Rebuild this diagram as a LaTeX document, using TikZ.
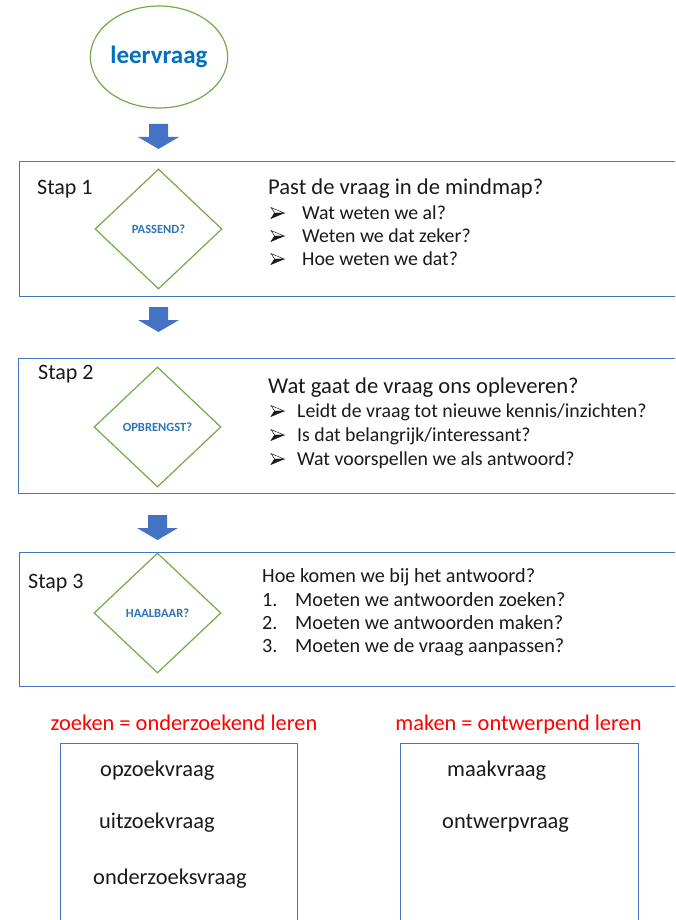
\documentclass[tikz,border=0pt]{standalone}
\usepackage{fontspec}
\setmainfont{Carlito}
\usetikzlibrary{shapes.geometric}

\definecolor{framegreen}{HTML}{70AD47}
\definecolor{frameblue}{HTML}{4472C4}
\definecolor{titleblue}{HTML}{0070C0}
\definecolor{labelblue}{HTML}{2E75B6}
\definecolor{ink}{HTML}{1A1A1A}

\newcommand{\fs}[1]{\fontsize{#1}{#1}\selectfont}

\tikzset{
  stepbox/.style={draw=frameblue, line width=1.2pt, rectangle, inner sep=0pt, anchor=north west},
  decision/.style={draw=framegreen, line width=1.2pt, diamond, aspect=1.06, inner sep=0pt,
    minimum width=127pt, minimum height=120pt, text=labelblue, font=\bfseries\fs{12.5}},
  txt/.style={anchor=base west, inner sep=0pt, text=ink},
  steplabel/.style={txt, font=\fs{22}},
  heading/.style={txt, font=\fs{22.6}},
  item/.style={txt, font=\fs{19.8}},
  numitem/.style={txt, font=\fs{20.2}},
  red title/.style={anchor=base, inner sep=0pt, text=red, font=\fs{22.4}},
  entry/.style={anchor=base west, inner sep=0pt, text=ink, font=\fs{22.4}},
  downarrow/.pic={
    \fill[frameblue] (-9.5,0) -- (9.5,0) -- (9.5,13) -- (20.5,13) -- (0,25)
      -- (-20.5,13) -- (-9.5,13) -- cycle;
  },
  % three-dimensional arrowhead bullet, origin at its left end on the text's mid line
  arrowhead bullet/.pic={
    \filldraw[ink, fill=white, line width=0.5pt, line join=miter]
      (13,0) -- (0,-5.5) -- (3.6,0) -- cycle;
    \filldraw[ink, line width=0.5pt, line join=miter]
      (13,0) -- (3.6,0) -- (0,5.5) -- cycle;
  }
}

\begin{document}
\begin{tikzpicture}[x=1pt, y=-1pt]
\useasboundingbox (0,0) rectangle (675,920);
\clip (0,0) rectangle (675,920);
\fill[white] (0,0) rectangle (675,920);

% start
\node[draw=framegreen, line width=1.2pt, ellipse, minimum width=128pt, minimum height=102pt,
  inner sep=0pt, text=titleblue, font=\bfseries\fs{25}] (start) at (159,57) {leervraag};

\pic at (158.5,124) {downarrow};

% step 1
\node[stepbox, minimum width=680pt, minimum height=135pt] (box1) at (19,161) {};
\node[decision] (d1) at (158.5,229) {PASSEND?};
\node[steplabel] (s1) at (37,194) {Stap 1};
\node[heading] (h1) at (268,194) {Past de vraag in de mindmap?};
\pic at (271,213) {arrowhead bullet};
\node[item] (t11) at (302,219) {Wat weten we al?};
\pic at (271,236) {arrowhead bullet};
\node[item] (t12) at (302,242) {Weten we dat zeker?};
\pic at (271,259) {arrowhead bullet};
\node[item] (t13) at (302,265) {Hoe weten we dat?};

\pic at (158.5,307) {downarrow};

% step 2
\node[stepbox, minimum width=680pt, minimum height=135pt] (box2) at (18,358) {};
\node[decision] (d2) at (157.5,427) {OPBRENGST?};
\node[steplabel] (s2) at (38,379) {Stap 2};
\node[heading] (h2) at (268,393) {Wat gaat de vraag ons opleveren?};
\pic at (271,411) {arrowhead bullet};
\node[item] (t21) at (297,417) {Leidt de vraag tot nieuwe kennis/inzichten?};
\pic at (271,435) {arrowhead bullet};
\node[item] (t22) at (297,441) {Is dat belangrijk/interessant?};
\pic at (271,459) {arrowhead bullet};
\node[item] (t23) at (297,465) {Wat voorspellen we als antwoord?};

\pic at (157.5,515) {downarrow};

% step 3
\node[stepbox, minimum width=680pt, minimum height=134pt] (box3) at (19,552) {};
\node[decision] (d3) at (157.5,613) {HAALBAAR?};
\node[steplabel] (s3) at (28,588) {Stap 3};
\node[numitem] (h3) at (262,582) {Hoe komen we bij het antwoord?};
\node[numitem] (n31) at (262,606) {1.};
\node[numitem] (t31) at (295,606) {Moeten we antwoorden zoeken?};
\node[numitem] (n32) at (262,629) {2.};
\node[numitem] (t32) at (295,629) {Moeten we antwoorden maken?};
\node[numitem] (n33) at (262,652) {3.};
\node[numitem] (t33) at (295,652) {Moeten we de vraag aanpassen?};

% two kinds of learning
\node[red title] (zt) at (184,730) {zoeken = onderzoekend leren};
\node[red title] (mt) at (518.5,730) {maken = ontwerpend leren};

\node[stepbox, line width=1pt, minimum width=237pt, minimum height=200pt] (zbox) at (59.5,743) {};
\node[stepbox, line width=1pt, minimum width=238pt, minimum height=200pt] (mbox) at (400,743) {};

\node[entry] (z1) at (100,776) {opzoekvraag};
\node[entry] (z2) at (99,828) {uitzoekvraag};
\node[entry] (z3) at (93,884) {onderzoeksvraag};
\node[entry] (m1) at (447,776) {maakvraag};
\node[entry] (m2) at (442,828) {ontwerpvraag};
\end{tikzpicture}
\end{document}
